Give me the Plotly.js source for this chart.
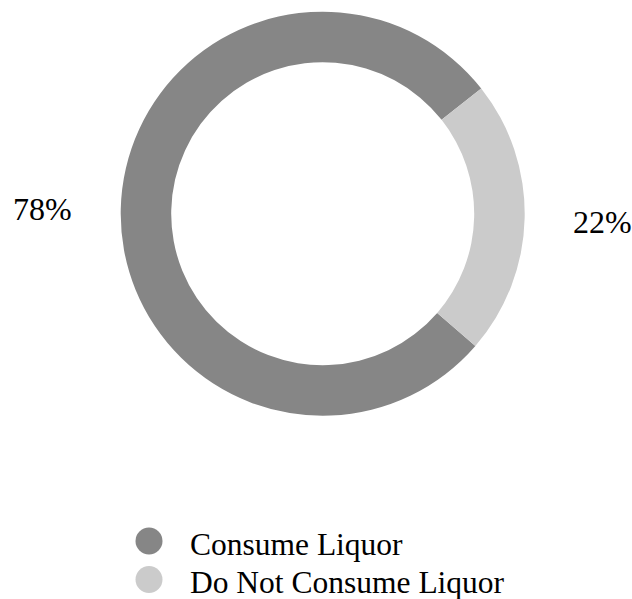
<!DOCTYPE html>
<html>
<head>
<meta charset="utf-8">
<script src="https://cdn.plot.ly/plotly-3.0.1.min.js"></script>
<style>
html,body{margin:0;padding:0;background:#fff;}
#chart{width:632px;height:599px;}
#chart text{font-family:"Liberation Serif","Times New Roman",serif !important;}
</style>
</head>
<body>
<div id="chart"></div>
<script>
// Data
const categories = ["Consume Liquor", "Do Not Consume Liquor"];
const values = [78, 22];
const valueLabels = ["78%", "22%"];
const colors = ["#868686", "#cbcbcb"];

// Layout constants (pixels)
const W = 632, H = 599;
const cx = 322.7, cy = 213.7, R = 202;
const rotation = 130.9;
const labelR = 280;
const FONT = "serif";

const px = x => x / W;
const py = y => 1 - y / H;

const total = values.reduce((a, b) => a + b, 0);
const annotations = [];
const shapes = [];
let cum = 0;
values.forEach((v, i) => {
  const mid = (rotation + (cum + v / 2) / total * 360) * Math.PI / 180;
  cum += v;
  annotations.push({
    x: px(cx + labelR * Math.sin(mid)),
    y: py(cy - labelR * Math.cos(mid) + 2),
    xref: "paper", yref: "paper",
    text: valueLabels[i], showarrow: false,
    xanchor: "center", yanchor: "middle",
    font: {family: FONT, size: 32, color: "#000"}
  });
});

// Manual legend
const legX = 149, legY0 = 541, legStep = 38.5, legRad = 13.5, textX = 188;
categories.forEach((c, i) => {
  const y = legY0 + i * legStep;
  shapes.push({
    type: "circle", xref: "paper", yref: "paper",
    x0: px(legX - legRad), x1: px(legX + legRad),
    y0: py(y + legRad), y1: py(y - legRad),
    fillcolor: colors[i], line: {width: 0}
  });
  annotations.push({
    x: px(textX), y: py(y + 3), xref: "paper", yref: "paper",
    text: c, showarrow: false, xanchor: "left", yanchor: "middle",
    font: {family: FONT, size: 31.5, color: "#000"}
  });
});

const trace = {
  type: "pie",
  labels: categories,
  values: values,
  hole: 0.75,
  sort: false,
  direction: "clockwise",
  rotation: rotation,
  textinfo: "none",
  hoverinfo: "none",
  showlegend: false,
  marker: {colors: colors, line: {width: 0}},
  domain: {x: [px(cx - R), px(cx + R)], y: [py(cy + R), py(cy - R)]}
};

const layout = {
  width: W, height: H,
  margin: {l: 0, r: 0, t: 0, b: 0},
  paper_bgcolor: "#fff",
  font: {family: FONT, color: "#000"},
  showlegend: false,
  annotations: annotations,
  shapes: shapes
};

Plotly.newPlot("chart", [trace], layout, {staticPlot: true});
</script>
</body>
</html>
